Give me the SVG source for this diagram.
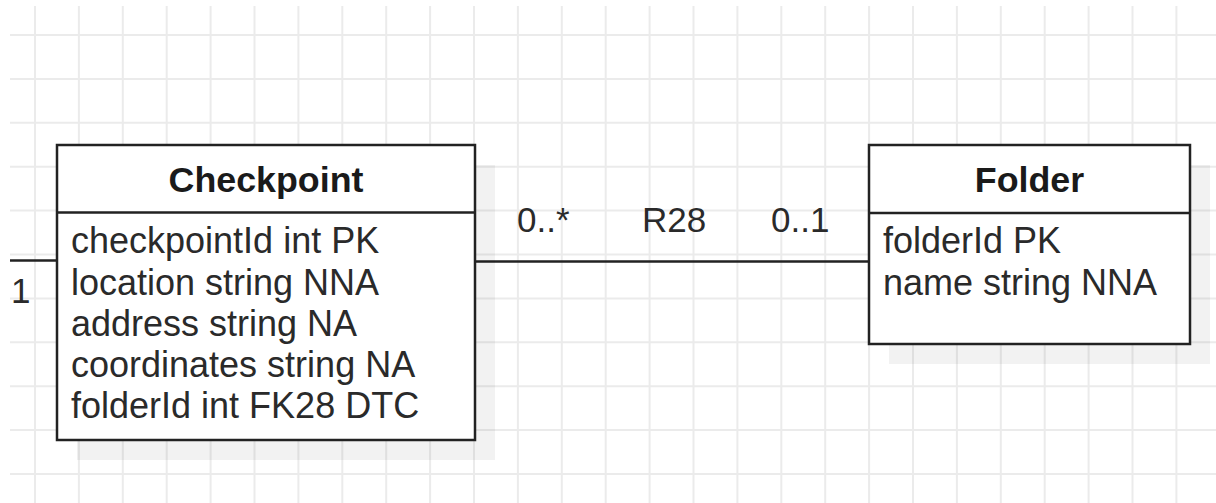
<svg xmlns="http://www.w3.org/2000/svg" width="1216" height="503" viewBox="0 0 1216 503">
<style>
.grid{stroke:#ebebeb;stroke-width:2;fill:none}
.box{fill:#fff;stroke:#222;stroke-width:2.5}
.shadow{fill:#000;fill-opacity:0.05}
.div{stroke:#222;stroke-width:2.5}
.title{font-family:"Liberation Sans",Arial,sans-serif;font-weight:bold;font-size:35.8px;fill:#1a1a1a;text-anchor:middle}
.attr{font-family:"Liberation Sans",Arial,sans-serif;font-size:36px;fill:#2a2a2a}
.lbl{font-family:"Liberation Sans",Arial,sans-serif;font-size:35px;fill:#2a2a2a}
.edge{stroke:#222;stroke-width:2.5;fill:none}
</style>
<rect width="1216" height="503" fill="#fff"/>
<path class="grid" d="M35 6V503M78.9 6V503M122.8 6V503M166.7 6V503M210.6 6V503M254.5 6V503M298.4 6V503M342.3 6V503M386.2 6V503M430.1 6V503M474 6V503M517.9 6V503M561.8 6V503M605.7 6V503M649.6 6V503M693.5 6V503M737.4 6V503M781.3 6V503M825.2 6V503M869.1 6V503M913 6V503M956.9 6V503M1000.8 6V503M1044.7 6V503M1088.6 6V503M1132.5 6V503M1176.4 6V503M10 35H1216M10 78.9H1216M10 122.8H1216M10 166.7H1216M10 210.6H1216M10 254.5H1216M10 298.4H1216M10 342.3H1216M10 386.2H1216M10 430.1H1216M10 474H1216"/>
<g id="connectors">
<line class="edge" x1="10" y1="260.5" x2="57" y2="260.5"/>
<line class="edge" x1="475" y1="261.5" x2="869" y2="261.5"/>
<text class="lbl" x="11" y="303">1</text>
<text class="lbl" x="517" y="232">0..*</text>
<text class="lbl" x="642" y="232">R28</text>
<text class="lbl" x="771" y="232">0..1</text>
</g>
<g id="checkpoint">
<rect class="shadow" x="77" y="165" width="418" height="295"/>
<rect class="box" x="57" y="145" width="418" height="295"/>
<line class="div" x1="57" y1="212.5" x2="475" y2="212.5"/>
<text class="title" x="266" y="192">Checkpoint</text>
<text class="attr" x="71" y="253">checkpointId int PK</text>
<text class="attr" x="71" y="294.5">location string NNA</text>
<text class="attr" x="71" y="335.5">address string NA</text>
<text class="attr" x="71" y="377">coordinates string NA</text>
<text class="attr" x="71" y="418">folderId int FK28 DTC</text>
</g>
<g id="folder">
<rect class="shadow" x="889" y="165" width="321" height="199"/>
<rect class="box" x="869" y="145" width="321" height="199"/>
<line class="div" x1="869" y1="213" x2="1190" y2="213"/>
<text class="title" x="1029.5" y="192">Folder</text>
<text class="attr" x="883" y="253">folderId PK</text>
<text class="attr" x="883" y="294.5">name string NNA</text>
</g>
</svg>
